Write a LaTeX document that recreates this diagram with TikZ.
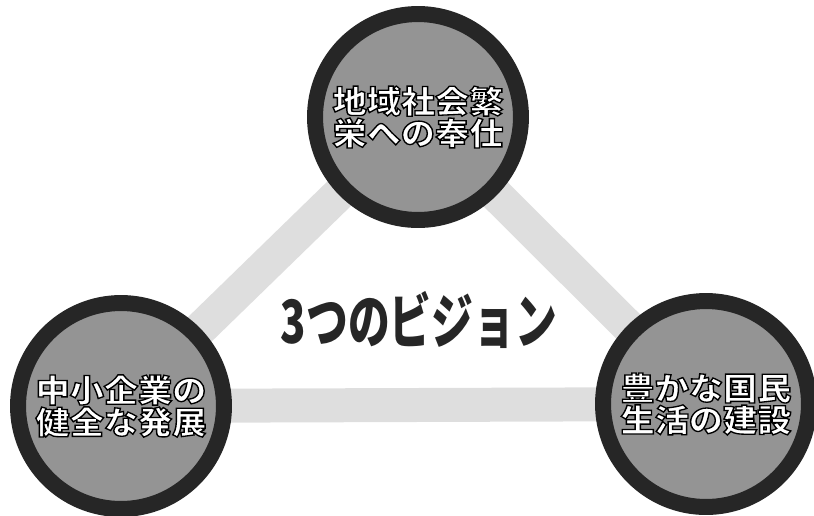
\documentclass[tikz,border=0pt]{standalone}
\usepackage{fontspec}
\usepackage{graphicx}
\usetikzlibrary{backgrounds}

\newfontfamily\jpfont{Noto Sans CJK JP}
% white letters with a black outline (fill, then stroke)
\newcommand{\ringtext}[1]{\scalebox{1.08}[1]{\special{pdf:code 2 Tr 0 G 0.75 w}#1\special{pdf:code 0 Tr}}}

\begin{document}
\begin{tikzpicture}[x=0.02cm,y=-0.02cm,
    vision/.style={circle, draw=black!85, fill=black!42, line width=0.32cm, minimum size=4.12cm, inner sep=0pt, align=center, text=white, font=\jpfont\bfseries\fontsize{18}{15.5}\selectfont},
    band/.style={line width=0.68cm, draw=black!13}]

        \useasboundingbox (0,0) rectangle (814,515);

        % The three visions
        \node[vision] (V-top) at (418,117) {\ringtext{地域社会繁}\\\ringtext{栄への奉仕}};
        \node[vision] (V-left) at (121,406) {\ringtext{中小企業の}\\\ringtext{健全な発展}};
        \node[vision] (V-right) at (706,404) {\ringtext{豊かな国民}\\\ringtext{生活の建設}};

        % Title in the middle
        \node[font=\jpfont\bfseries\fontsize{34}{34}\selectfont, text=black!85] (title) at (419,320) {\scalebox{0.7}[1]{3つのビジョン}};

        % Bands between the circles
        \begin{scope}[on background layer]
            \foreach \a/\b in {V-left/V-top, V-top/V-right, V-left/V-right}
                \draw[band] (\a.center) -- (\b.center);
        \end{scope}

\end{tikzpicture}
\end{document}
